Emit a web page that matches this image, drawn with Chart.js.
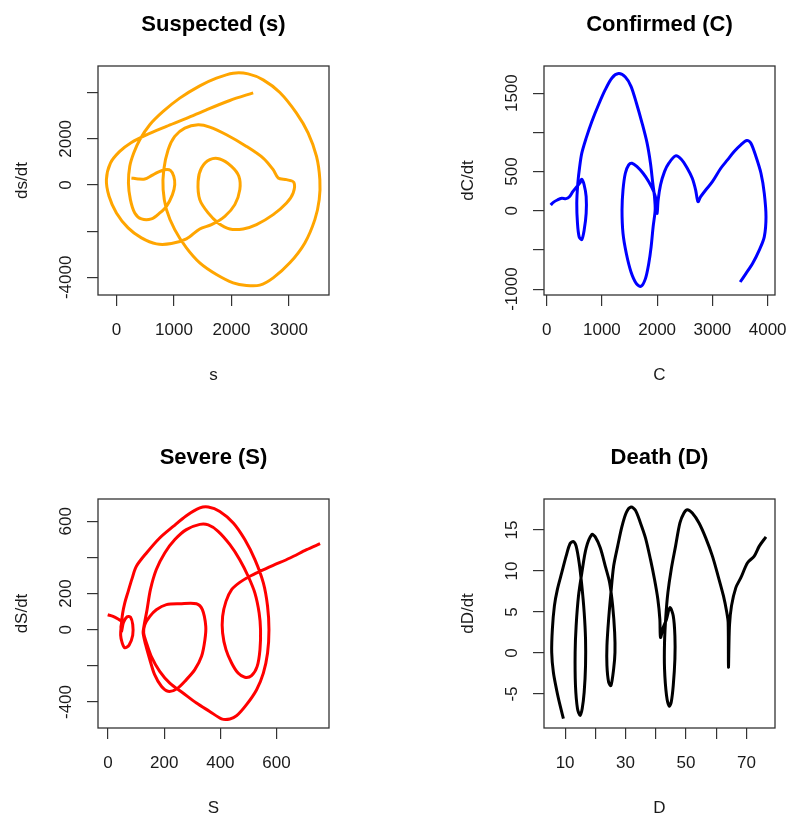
<!DOCTYPE html>
<html><head><meta charset="utf-8">
<script src="https://cdn.jsdelivr.net/npm/chart.js@4.4.0/dist/chart.umd.min.js"></script>
<style>
html,body{margin:0;padding:0;width:788px;height:817px;overflow:hidden;background:#fff;}
.p{position:absolute;width:394px;height:420px;}
</style></head><body>
<div class="p" style="left:0;top:0"><canvas id="c1" width="394" height="420"></canvas></div>
<div class="p" style="left:446px;top:0"><canvas id="c2" width="394" height="420"></canvas></div>
<div class="p" style="left:0;top:433px"><canvas id="c3" width="394" height="420"></canvas></div>
<div class="p" style="left:446px;top:433px"><canvas id="c4" width="394" height="420"></canvas></div>
<script>
// ---- Suspected (s) ----
const suspS = [261,377,493,609,725,841,939,997,1014,974,870,754,609,435,319,243,209,232,301,406,580,812,1101,1449,1739,2029,2290,2551,2841,3130,3333,3478,3536,3525,3449,3275,3014,2725,2493,2261,2029,1739,1449,1217,1014,870,812,823,899,1014,1188,1420,1623,1913,2261,2551,2725,2812,2957,3084,3072,2957,2725,2435,2203,1971,1768,1594,1449,1420,1478,1623,1797,2000,2128,2145,2058,1884,1652,1449,1217,957,696,435,203,0,-128,-174,-104,58,261,522,870,1217,1565,1971,2377];
const suspDs = [303,260,260,404,562,663,634,375,14,-418,-923,-1211,-1471,-1471,-1211,-634,87,807,1384,1961,2610,3187,3764,4297,4629,4845,4816,4557,4009,3115,2250,1240,231,-634,-1500,-2509,-3374,-4023,-4340,-4355,-4239,-3879,-3374,-2725,-1932,-1067,-202,663,1528,2105,2466,2610,2509,2177,1673,1168,663,303,231,115,-346,-779,-1283,-1716,-1904,-1904,-1644,-1211,-634,159,735,1096,1125,807,375,-202,-851,-1355,-1716,-1904,-2336,-2538,-2552,-2293,-1860,-1211,-490,231,952,1457,1846,2177,2538,2884,3259,3663,3994];
const suspXTicks = [0,1000,2000,3000];
const suspXLabels = ['0','1000','2000','3000'];
const suspYTicks = [-4000,-2000,0,2000,4000];
const suspYLabels = ['-4000','','0','2000',''];

// ---- Confirmed (C) ----
const confC = [73,121,194,273,352,412,473,545,606,636,679,715,715,679,636,588,558,545,564,594,636,715,818,939,1061,1182,1303,1424,1527,1624,1727,1818,1879,1921,1952,1964,1927,1891,1848,1788,1709,1624,1527,1442,1382,1364,1382,1424,1485,1545,1636,1745,1848,1939,1988,2000,2018,2061,2133,2212,2333,2436,2545,2636,2697,2739,2788,2879,3000,3152,3273,3394,3515,3624,3697,3788,3879,3939,3970,3939,3848,3727,3606,3503];
const confDC = [73,107,137,158,154,179,243,307,358,401,328,179,-34,-247,-367,-333,-162,94,350,542,734,926,1139,1352,1544,1694,1749,1706,1587,1374,1118,862,606,350,179,9,-205,-461,-674,-866,-964,-930,-781,-546,-290,9,265,478,584,606,563,478,371,243,115,-34,137,328,499,606,700,657,542,414,264,115,179,264,371,542,648,755,840,896,862,691,478,222,-77,-333,-503,-674,-802,-909];
const confXTicks = [0,1000,2000,3000,4000];
const confXLabels = ['0','1000','2000','3000','4000'];
const confYTicks = [-1000,-500,0,500,1000,1500];
const confYLabels = ['-1000','','0','500','','1500'];

// ---- Severe (S) ----
const sevS = [-1,18,36,48,46,48,55,68,80,88,88,75,60,50,45,47,52,60,70,85,101,137,184,232,279,327,357,398,446,487,523,553,568,573,568,553,529,493,458,434,404,362,315,267,220,184,154,137,127,131,149,172,208,256,315,336,348,345,333,309,279,244,214,190,166,149,134,125,128,139,151,172,202,238,279,327,357,392,434,469,499,523,538,543,541,531,511,487,463,440,420,408,408,420,440,469,505,541,588,648,707,755];
const sevDS = [83,74,59,46,15,-10,40,72,70,30,-30,-85,-100,-70,-30,20,90,150,203,280,351,425,508,572,631,674,679,655,591,499,388,259,130,0,-129,-240,-332,-415,-476,-494,-493,-452,-406,-350,-295,-230,-147,-73,-18,28,74,111,139,144,144,111,19,-55,-147,-221,-276,-328,-341,-313,-249,-166,-83,-18,19,111,222,333,425,499,554,583,580,545,471,388,296,203,93,0,-110,-203,-254,-263,-240,-184,-110,-18,74,157,222,262,296,323,356,397,443,476];
const sevXTicks = [0,200,400,600];
const sevXLabels = ['0','200','400','600'];
const sevYTicks = [-400,-200,0,200,400,600];
const sevYLabels = ['-400','','0','200','','600'];

// ---- Death (D) ----
const deathD = [9.45,8.34,7.23,6.12,5.57,5.79,6.46,7.45,8.89,10.33,11.66,12.77,13.65,14.65,15.54,16.31,16.76,16.76,16.31,15.65,14.98,14.10,13.43,13.32,13.65,14.43,15.54,16.98,18.86,19.97,21.63,23.29,24.73,25.73,26.39,26.50,26.06,25.17,24.40,23.84,23.84,24.40,25.17,26.06,27.39,28.83,30.27,31.82,33.26,34.92,36.58,38.24,39.57,40.68,41.34,41.56,42.45,43.55,44.66,45.77,46.32,46.32,45.77,45.10,44.44,43.55,42.89,42.89,43.33,44.00,45.10,46.54,47.98,49.31,50.42,52.08,54.30,56.51,58.73,60.61,62.38,63.49,63.93,64.04,64.37,65.04,66.48,68.14,70.35,72.57,74.23,76.44];
const deathDD = [-8.02,-6.40,-4.57,-2.35,0.08,2.91,5.75,7.77,9.80,11.82,13.36,13.60,13.04,11.01,8.18,4.94,1.70,-1.54,-4.78,-6.80,-7.61,-6.80,-3.97,0.08,3.32,6.96,9.80,12.83,14.45,14.17,12.83,10.61,8.58,5.75,2.51,0.08,-1.94,-3.97,-3.56,-1.54,0.89,4.13,7.37,10.61,13.04,15.47,17.17,17.81,17.41,15.87,14.05,11.42,8.99,6.56,4.13,1.90,3.12,4.13,5.55,4.53,2.11,-0.73,-3.97,-5.99,-6.48,-5.18,-1.94,1.30,4.53,7.37,10.20,13.04,15.87,17.09,17.49,17.09,15.87,14.05,11.82,9.39,6.96,4.94,3.72,-1.74,3.32,5.75,7.98,9.19,11.01,11.82,13.04,14.17];
const deathXTicks = [10,20,30,40,50,60,70];
const deathXLabels = ['10','','30','','50','','70'];
const deathYTicks = [-5,0,5,10,15];
const deathYLabels = ['-5','0','5','10','15'];

const FONT = "'Liberation Sans', Arial, Helvetica, sans-serif";
const TICK_SIZE = 17;
const TEXT_COLOR = '#1a1a1a';

const measureCtx = document.createElement('canvas').getContext('2d');
function widestLabel(labels){
  measureCtx.font = TICK_SIZE + 'px ' + FONT;
  return Math.max(...labels.filter(l => l !== '').map(l => measureCtx.measureText(l).width));
}

const rBox = {
  id: 'rBox',
  afterDatasetsDraw(chart){
    const {ctx, chartArea: a} = chart;
    ctx.save();
    ctx.strokeStyle = '#333';
    ctx.lineWidth = 1.3;
    ctx.strokeRect(a.left, a.top, a.right - a.left, a.bottom - a.top);
    ctx.restore();
  }
};

function makeChart(id, title, xs, ys, color, xr, yr, xT, xL, yT, yL, xTitle, yTitle){
  const pad = 31.3 - 11 - widestLabel(yL) / 2;
  const tickFont = {size: TICK_SIZE, family: FONT};
  return new Chart(document.getElementById(id), {
    type: 'scatter',
    data: { datasets: [{
      data: xs.map((v, i) => ({x: v, y: ys[i]})),
      showLine: true, borderColor: color, backgroundColor: color,
      borderWidth: 3, pointRadius: 0, tension: 0.3, fill: false
    }]},
    options: {
      responsive: false, animation: false, devicePixelRatio: 1,
      layout: {padding: {left: 0, top: 0, right: 65, bottom: 25}},
      plugins: {
        legend: {display: false}, tooltip: {enabled: false},
        title: {display: true, text: title, fullSize: false, color: '#000',
          font: {size: 22, weight: 'bold', family: FONT, lineHeight: 1.2},
          padding: {top: 11.5, bottom: 28.1}}
      },
      scales: {
        x: {
          type: 'linear', position: 'bottom', min: xr[0], max: xr[1],
          afterBuildTicks: s => { s.ticks = xT.map(v => ({value: v})); },
          afterFit: s => { s.height = 100; },
          ticks: {autoSkip: false, maxRotation: 0, minRotation: 0, font: tickFont, color: TEXT_COLOR, padding: 13.8,
            callback: v => { const i = xT.indexOf(v); return i >= 0 ? xL[i] : ''; }},
          grid: {drawOnChartArea: false, drawTicks: true, tickLength: 11, color: '#333', lineWidth: 1.2},
          border: {display: false},
          title: {display: true, text: xTitle, color: TEXT_COLOR, font: {size: 17, family: FONT, lineHeight: 1.2}, padding: {top: 0, bottom: 9.8}}
        },
        y: {
          type: 'linear', position: 'left', min: yr[0], max: yr[1],
          afterBuildTicks: s => { s.ticks = yT.map(v => ({value: v})); },
          afterFit: s => { s.width = 98; },
          ticks: {autoSkip: false, minRotation: 90, maxRotation: 90, crossAlign: 'center', font: tickFont, color: TEXT_COLOR, padding: pad,
            callback: v => { const i = yT.indexOf(v); return i >= 0 ? yL[i] : ''; }},
          grid: {drawOnChartArea: false, drawTicks: true, tickLength: 11, color: '#333', lineWidth: 1.2},
          border: {display: false},
          title: {display: true, text: yTitle, color: TEXT_COLOR, font: {size: 17, family: FONT, lineHeight: 1.2}, padding: {top: 11.8, bottom: 0}}
        }
      }
    },
    plugins: [rBox]
  });
}

makeChart('c1', 'Suspected (s)', suspS, suspDs, '#FFA500', [-320, 3695], [-4767, 5157], suspXTicks, suspXLabels, suspYTicks, suspYLabels, 's', 'ds/dt');
makeChart('c2', 'Confirmed (C)', confC, confDC, '#0000FF', [-48, 4133], [-1075, 1846], confXTicks, confXLabels, confYTicks, confYLabels, 'C', 'dC/dt');
makeChart('c3', 'Severe (S)', sevS, sevDS, '#FF0000', [-35.6, 786.7], [-543.9, 723.6], sevXTicks, sevXLabels, sevYTicks, sevYLabels, 'S', 'dS/dt');
makeChart('c4', 'Death (D)', deathD, deathDD, '#000000', [3.02, 79.43], [-9.15, 18.79], deathXTicks, deathXLabels, deathYTicks, deathYLabels, 'D', 'dD/dt');
</script>
</body></html>
